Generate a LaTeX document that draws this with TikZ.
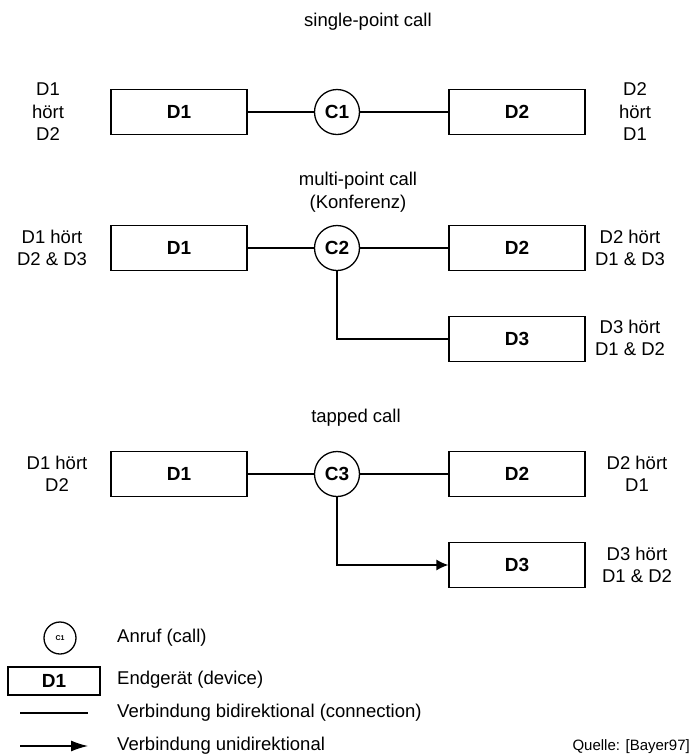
\documentclass[tikz,border=0pt]{standalone}
\usepackage{fontspec}
\setmainfont{Liberation Sans}
\usetikzlibrary{positioning,arrows.meta}

\tikzset{
  device/.style={draw, line width=1.3pt, minimum width=136pt, minimum height=45pt, inner sep=0pt,
    font=\fontsize{19}{22}\selectfont\bfseries},
  call/.style={circle, draw, line width=1.3pt, minimum size=45pt, inner sep=0pt,
    font=\fontsize{19}{22}\selectfont\bfseries},
  hears/.style={align=center, inner sep=0pt, font=\fontsize{18.5}{22.5}\selectfont},
  conn/.style={line width=1.3pt},
}

\begin{document}
\begin{tikzpicture}[x=1pt,y=-1pt]
        \useasboundingbox (0,0) rectangle (691,756);
        % single-point call
        \node[hears] (tSingle) at (368,22) {single-point call};
        \node[device] (sD1) at (179,112) {D1};
        \node[call] (c1) at (337,112) {C1};
        \node[device] (sD2) at (517,112) {D2};
        \node[hears] (sH1) at (48,112) {D1\\hört\\D2};
        \node[hears] (sH2) at (635,112) {D2\\hört\\D1};
        \draw[conn] (sD1) -- (c1) -- (sD2);
        % multi-point call
        \node[hears] (tMulti) at (358,192) {multi-point call\\(Konferenz)};
        \node[device] (mD1) at (179,248) {D1};
        \node[call] (c2) at (337,248) {C2};
        \node[device] (mD2) at (517,248) {D2};
        \node[device] (mD3) at (517,339) {D3};
        \node[hears] (mH1) at (52,248) {D1 hört\\D2 \& D3};
        \node[hears] (mH2) at (630,248) {D2 hört\\D1 \& D3};
        \node[hears] (mH3) at (630,338) {D3 hört\\D1 \& D2};
        \draw[conn] (mD1) -- (c2) -- (mD2);
        \draw[conn] (c2.south) |- (mD3.west);
        % tapped call
        \node[hears] (tTapped) at (356,418) {tapped call};
        \node[device] (tD1) at (179,474) {D1};
        \node[call] (c3) at (337,474) {C3};
        \node[device] (tD2) at (517,474) {D2};
        \node[device] (tD3) at (517,565) {D3};
        \node[hears] (tH1) at (57,474) {D1 hört\\D2};
        \node[hears] (tH2) at (637,474) {D2 hört\\D1};
        \node[hears] (tH3) at (637,565) {D3 hört\\D1 \& D2};
        \draw[conn] (tD1) -- (c3) -- (tD2);
        \draw[conn,-{Latex[length=12pt,width=11pt]}] (c3.south) |- (tD3.west);
        % legend
        \node[circle, draw, line width=1.3pt, minimum size=32pt, inner sep=0pt,
              font=\fontsize{7}{8}\selectfont\bfseries] (lCall) at (60,638) {C1};
        \node[device, minimum width=92pt, minimum height=28pt] (lDev) at (54,681) {D1};
        \coordinate (lBiA) at (20,713);
        \coordinate (lBiB) at (88,713);
        \coordinate (lUniA) at (20,746);
        \coordinate (lUniB) at (88,746);
        \draw[conn] (lBiA) -- (lBiB);
        \draw[conn,-{Latex[length=17pt,width=11pt]}] (lUniA) -- (lUniB);
        \node[hears, anchor=west] (lCallTxt) at (117,638) {Anruf (call)};
        \node[hears, anchor=west] (lDevTxt) at (117,680) {Endgerät (device)};
        \node[hears, anchor=west] (lBiTxt) at (117,713) {Verbindung bidirektional (connection)};
        \node[hears, anchor=west] (lUniTxt) at (117,746) {Verbindung unidirektional};
        \node[anchor=east, inner sep=0pt, font=\fontsize{15}{18}\selectfont] (src) at (690,747) {Quelle: [Bayer97]};
\end{tikzpicture}
\end{document}
